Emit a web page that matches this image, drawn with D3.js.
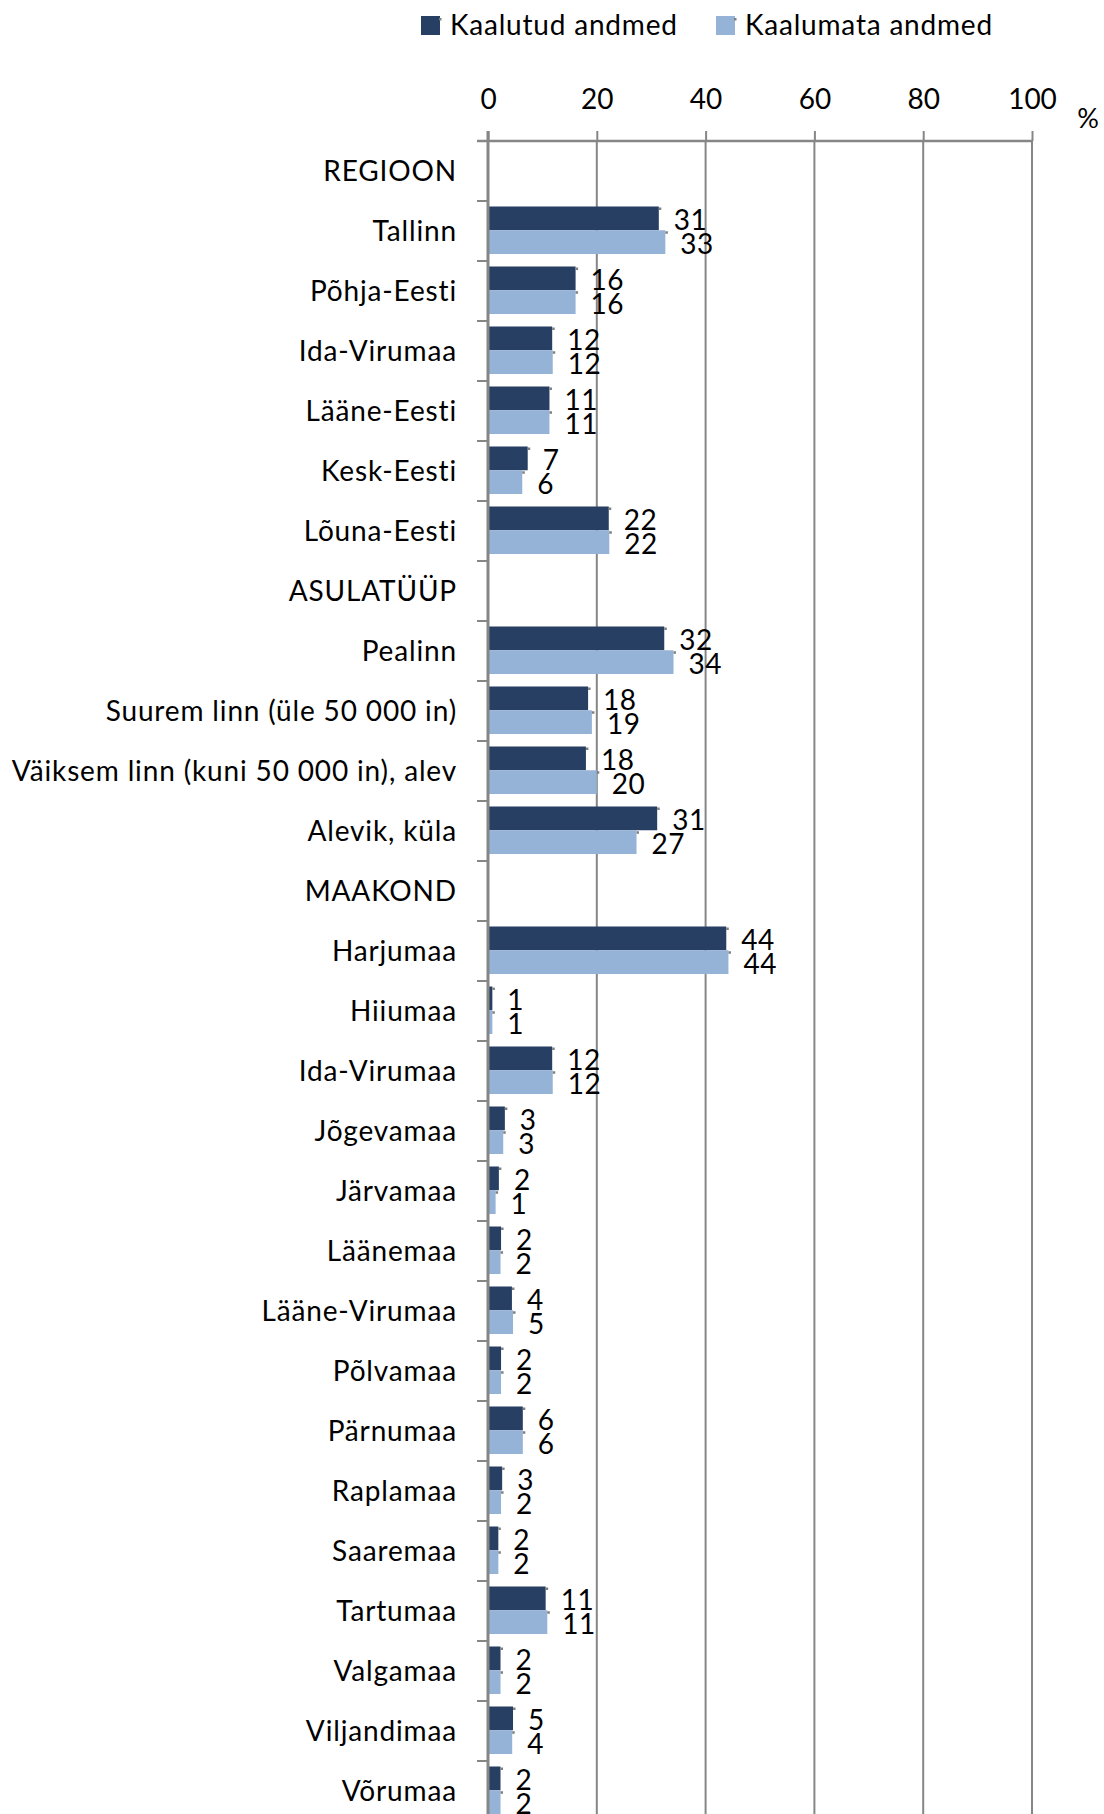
<!DOCTYPE html>
<html>
<head>
<meta charset="utf-8">
<script src="https://cdn.jsdelivr.net/npm/d3@7"></script>
<style>
  body { margin: 0; background: #fff; }
  svg { display: block; font-family: Lato, "Open Sans", sans-serif; font-variant-ligatures: none; }
</style>
</head>
<body>
<svg id="chart"></svg>
<script>
const width = 1104;
const height = 1814;

const categories = [
  'REGIOON', 'Tallinn', 'Põhja-Eesti', 'Ida-Virumaa', 'Lääne-Eesti', 'Kesk-Eesti', 'Lõuna-Eesti',
  'ASULATÜÜP', 'Pealinn', 'Suurem linn (üle 50 000 in)', 'Väiksem linn (kuni 50 000 in), alev', 'Alevik, küla',
  'MAAKOND', 'Harjumaa', 'Hiiumaa', 'Ida-Virumaa ', 'Jõgevamaa', 'Järvamaa', 'Läänemaa', 'Lääne-Virumaa',
  'Põlvamaa', 'Pärnumaa', 'Raplamaa', 'Saaremaa', 'Tartumaa', 'Valgamaa', 'Viljandimaa', 'Võrumaa'
];
const seriesNames = ['Kaalutud andmed', 'Kaalumata andmed'];
const seriesColors = ['#263f62', '#95b3d7'];

// null = header row without bars
const weighted = [
  null, 31.4, 16.1, 11.8, 11.3, 7.3, 22.2,
  null, 32.4, 18.4, 18.0, 31.1,
  null, 43.8, 0.8, 11.8, 3.1, 2.0, 2.4, 4.4,
  2.4, 6.4, 2.6, 1.9, 10.6, 2.3, 4.6, 2.3
];
const unweighted = [
  null, 32.6, 16.1, 11.9, 11.3, 6.3, 22.3,
  null, 34.1, 19.1, 20.0, 27.3,
  null, 44.2, 0.8, 11.9, 2.8, 1.4, 2.3, 4.6,
  2.4, 6.4, 2.4, 1.9, 10.9, 2.3, 4.45, 2.3
];
const xTicks = [0, 20, 40, 60, 80, 100];

const svg = d3.select('#chart')
  .attr('width', width)
  .attr('height', height);

const x = d3.scaleLinear().domain([0, 100]).range([488, 1032]);
const yOuter = d3.scaleBand().domain(categories).range([141, 141 + 60 * categories.length]);
const yInner = d3.scaleBand().domain(seriesNames).range([5.5, 53]);

const axisColor = '#868686';

// gridlines
svg.append('g')
  .selectAll('line')
  .data(xTicks.slice(1))
  .enter()
  .append('line')
  .attr('x1', d => x(d)).attr('x2', d => x(d))
  .attr('y1', 141).attr('y2', height)
  .attr('stroke', axisColor)
  .attr('stroke-width', 2);

// top axis
const xAxis = svg.append('g')
  .attr('transform', 'translate(0,141)')
  .call(d3.axisTop(x).tickValues(xTicks).tickSize(10).tickPadding(22).tickSizeOuter(0));
xAxis.select('.domain').remove();
xAxis.selectAll('.tick line').attr('stroke', axisColor).attr('stroke-width', 2);
xAxis.selectAll('.tick text')
  .attr('font-size', 28)
  .attr('font-family', 'Lato, sans-serif')
  .attr('fill', '#000');
svg.append('line')
  .attr('x1', 477).attr('x2', x(100) + 1)
  .attr('y1', 141).attr('y2', 141)
  .attr('stroke', axisColor).attr('stroke-width', 2.5);

svg.append('text')
  .attr('x', 1088).attr('y', 128)
  .attr('text-anchor', 'middle')
  .attr('font-size', 27)
  .text('%');

// bars
const rows = svg.append('g')
  .selectAll('g')
  .data(categories.map((c, i) => ({ c, vals: [weighted[i], unweighted[i]] })))
  .enter()
  .append('g')
  .attr('transform', d => `translate(0,${yOuter(d.c)})`);

const bars = rows.selectAll('g.bar')
  .data(d => d.vals.map((v, j) => ({ v, s: seriesNames[j], j })).filter(o => o.v !== null))
  .enter()
  .append('g')
  .attr('class', 'bar');

bars.append('rect')
  .attr('x', x(0))
  .attr('y', o => yInner(o.s))
  .attr('width', o => x(o.v) - x(0))
  .attr('height', yInner.bandwidth())
  .attr('fill', o => seriesColors[o.j]);

bars.append('rect')
  .attr('x', o => x(o.v))
  .attr('y', o => yInner(o.s) + 1)
  .attr('width', 2.5).attr('height', 2.5)
  .attr('fill', '#7f7f7f');

bars.append('text')
  .attr('x', o => x(o.v) + 15)
  .attr('y', o => yInner(o.s) + yInner.bandwidth() / 2 + 12)
  .attr('font-size', 28)
  .attr('letter-spacing', 0.5)
  .attr('fill', '#000')
  .text(o => Math.round(o.v));

// left axis line and boundary ticks
svg.append('line')
  .attr('x1', x(0)).attr('x2', x(0))
  .attr('y1', 131).attr('y2', height)
  .attr('stroke', axisColor).attr('stroke-width', 3);

svg.append('g')
  .selectAll('line')
  .data(categories.slice(1))
  .enter()
  .append('line')
  .attr('x1', 477).attr('x2', x(0))
  .attr('y1', d => yOuter(d)).attr('y2', d => yOuter(d))
  .attr('stroke', axisColor).attr('stroke-width', 2);

// category labels
const yAxis = svg.append('g')
  .attr('transform', `translate(${x(0)},0)`)
  .call(d3.axisLeft(d3.scaleBand().domain(categories).range(yOuter.range())).tickSize(0).tickPadding(31));
yAxis.select('.domain').remove();
yAxis.selectAll('.tick text')
  .attr('font-size', 28)
  .attr('font-family', 'Lato, sans-serif')
  .attr('letter-spacing', 0.85)
  .attr('fill', '#000')
  .attr('dy', '0.36em');

// legend
const legend = svg.append('g');
const legendX = [421, 716];
seriesNames.forEach((name, i) => {
  legend.append('rect')
    .attr('x', legendX[i]).attr('y', 16)
    .attr('width', 19).attr('height', 19)
    .attr('fill', seriesColors[i]);
  legend.append('rect')
    .attr('x', legendX[i] + 18).attr('y', 18)
    .attr('width', 2.5).attr('height', 2.5)
    .attr('fill', '#7f7f7f');
  legend.append('text')
    .attr('x', legendX[i] + 29).attr('y', 35)
    .attr('font-size', 28)
    .attr('letter-spacing', 0.8)
    .attr('fill', '#000')
    .text(name);
});
</script>
</body>
</html>
